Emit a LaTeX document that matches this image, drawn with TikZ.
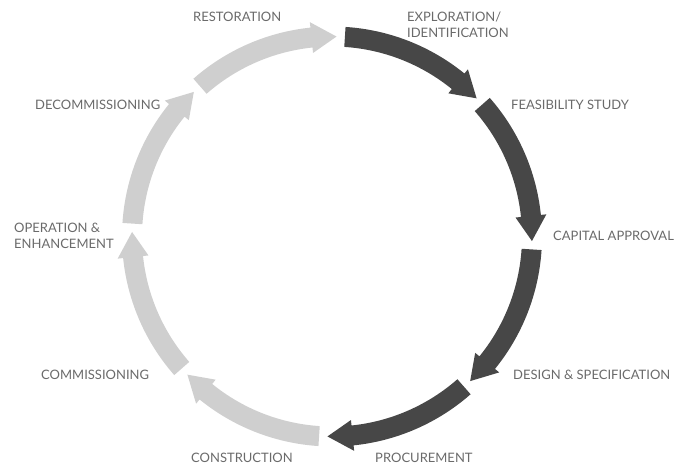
\documentclass[tikz,border=0pt]{standalone}
\usepackage{fontspec}
\setmainfont{Lato}
\definecolor{darkarr}{HTML}{474747}
\definecolor{lightarr}{HTML}{CFCFCF}
\definecolor{labelgray}{HTML}{6A6A6A}
\newcommand\cycarrow[3]{%
  \pgfmathsetmacro\hb{#2+7.2}%
  \fill[#3] (#1:210pt) arc[start angle=#1, end angle=\hb, radius=210pt]
    -- (\hb:215.5pt) -- (#2:200pt) -- (\hb:184.5pt) -- (\hb:190pt)
    arc[start angle=\hb, end angle=#1, radius=190pt] -- cycle;}
\tikzset{lbl/.style={anchor=west, inner sep=0pt, text=labelgray, align=left,
  font=\fontsize{13}{16}\selectfont}}
\begin{document}
\begin{tikzpicture}[x=1pt,y=1pt]
\useasboundingbox (0,0) rectangle (685,466);
\begin{scope}[shift={(332pt,229.5pt)}]
  \cycarrow{86.3}{43.7}{darkarr}
  \cycarrow{41.3}{-1.3}{darkarr}
  \cycarrow{-3.7}{-46.3}{darkarr}
  \cycarrow{-48.7}{-91.3}{darkarr}
  \cycarrow{-93.7}{-136.3}{lightarr}
  \cycarrow{-138.7}{-181.3}{lightarr}
  \cycarrow{-183.7}{-226.3}{lightarr}
  \cycarrow{-228.7}{-271.3}{lightarr}
\end{scope}
\node[lbl] (restoration) at (193,449) {RESTORATION};
\node[lbl] (exploration) at (407,441) {EXPLORATION/\\IDENTIFICATION};
\node[lbl] (feasibility) at (511,361) {FEASIBILITY STUDY};
\node[lbl] (capital) at (553,230) {CAPITAL APPROVAL};
\node[lbl] (design) at (513,91) {DESIGN \& SPECIFICATION};
\node[lbl] (procurement) at (375,8) {PROCUREMENT};
\node[lbl] (construction) at (191,8) {CONSTRUCTION};
\node[lbl] (commissioning) at (41,91) {COMMISSIONING};
\node[lbl] (operation) at (14,230) {OPERATION \&\\ENHANCEMENT};
\node[lbl] (decommissioning) at (35,361) {DECOMMISSIONING};
\end{tikzpicture}
\end{document}
